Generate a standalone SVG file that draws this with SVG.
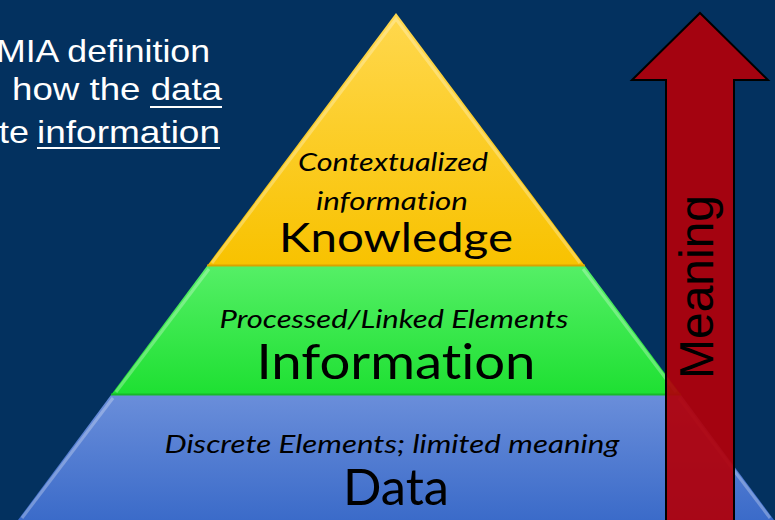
<svg xmlns="http://www.w3.org/2000/svg" width="775" height="520" viewBox="0 0 775 520">
  <defs>
    <linearGradient id="gYellow" x1="0" y1="0" x2="0" y2="1">
      <stop offset="0" stop-color="#FFD84E"/>
      <stop offset="1" stop-color="#F8C200"/>
    </linearGradient>
    <linearGradient id="gGreen" x1="0" y1="0" x2="0" y2="1">
      <stop offset="0" stop-color="#55EF66"/>
      <stop offset="1" stop-color="#1EE032"/>
    </linearGradient>
    <linearGradient id="gBlue" x1="0" y1="0" x2="0" y2="1">
      <stop offset="0" stop-color="#6A8EDA"/>
      <stop offset="1" stop-color="#3B6BC9"/>
    </linearGradient>
    <style>
      .bg { fill: #03315F; }
      .lead { font-family: "Liberation Sans", Arial, sans-serif; font-size: 32px; fill: #FFFFFF; }
      .uline { stroke: #FFFFFF; stroke-width: 2; }
      .sub { font-family: Lato, "Open Sans", sans-serif; font-style: italic; font-size: 25px; fill: #000000; text-anchor: middle; font-variant-ligatures: none; font-feature-settings: "liga" 0; }
      .title { font-family: Lato, "Open Sans", sans-serif; fill: #000000; text-anchor: middle; font-variant-ligatures: none; font-feature-settings: "liga" 0; }
      .bevel { fill: none; stroke: #FFFFFF; stroke-opacity: 0.28; stroke-width: 3; }
      .seam { stroke-width: 2; }
    </style>
  </defs>

  <rect class="bg" x="0" y="0" width="775" height="520"/>

  <!-- lead-in text at the top left, clipped by the left edge -->
  <g id="lead-text">
    <text class="lead" x="-4" y="62" textLength="214" lengthAdjust="spacingAndGlyphs">MIA definition</text>
    <text class="lead" x="12" y="100" textLength="210" lengthAdjust="spacingAndGlyphs">how the data</text>
    <line class="uline" x1="150" y1="107" x2="222" y2="107"/>
    <text class="lead" x="-1" y="143" textLength="30" lengthAdjust="spacingAndGlyphs">te</text>
    <text class="lead" x="37" y="143" textLength="183" lengthAdjust="spacingAndGlyphs">information</text>
    <line class="uline" x1="37" y1="148" x2="220" y2="148"/>
  </g>

  <!-- bottom tier -->
  <g id="tier-data">
    <polygon points="111,395 681,395 774,520 18,520" fill="url(#gBlue)"/>
    <polyline class="bevel" points="22,518 113,398"/>
    <polyline class="bevel" points="679,398 770,518"/>
    <text class="sub" x="392" y="453" textLength="455" lengthAdjust="spacingAndGlyphs">Discrete Elements; limited meaning</text>
    <text class="title" x="396" y="505" font-size="51" textLength="106" lengthAdjust="spacingAndGlyphs">Data</text>
  </g>

  <!-- middle tier -->
  <g id="tier-information">
    <polygon points="207,266 585,266 681,395 111,395" fill="url(#gGreen)"/>
    <polyline class="bevel" points="116,392 209,269"/>
    <polyline class="bevel" points="583,269 676,392"/>
    <line class="seam" x1="111" y1="394.5" x2="681" y2="394.5" stroke="#18B82A"/>
    <text class="sub" x="394" y="328" textLength="349" lengthAdjust="spacingAndGlyphs">Processed/Linked Elements</text>
    <text class="title" x="396" y="379" font-size="48" textLength="279" lengthAdjust="spacingAndGlyphs">Information</text>
  </g>

  <!-- top tier -->
  <g id="tier-knowledge">
    <polygon points="396,13 585,266 207,266" fill="url(#gYellow)"/>
    <polyline class="bevel" points="212,263 396,19 580,263"/>
    <line class="seam" x1="207" y1="265.5" x2="585" y2="265.5" stroke="#D9A300"/>
    <text class="sub" x="393" y="171" textLength="190" lengthAdjust="spacingAndGlyphs">Contextualized</text>
    <text class="sub" x="392" y="210" textLength="152" lengthAdjust="spacingAndGlyphs">information</text>
    <text class="title" x="396" y="252" font-size="40" textLength="234" lengthAdjust="spacingAndGlyphs">Knowledge</text>
  </g>

  <!-- upward arrow with its label -->
  <g id="meaning-arrow">
    <polygon points="700,13 768,80 734,80 734,522 666,522 666,80 632,80" fill="#B0000A" fill-opacity="0.93" stroke="#000000" stroke-width="2" stroke-linejoin="miter"/>
    <text transform="translate(713,287) rotate(-90)" font-family="Liberation Sans, Arial, sans-serif" font-size="48" text-anchor="middle" fill="#000000" textLength="184" lengthAdjust="spacingAndGlyphs">Meaning</text>
  </g>
</svg>
